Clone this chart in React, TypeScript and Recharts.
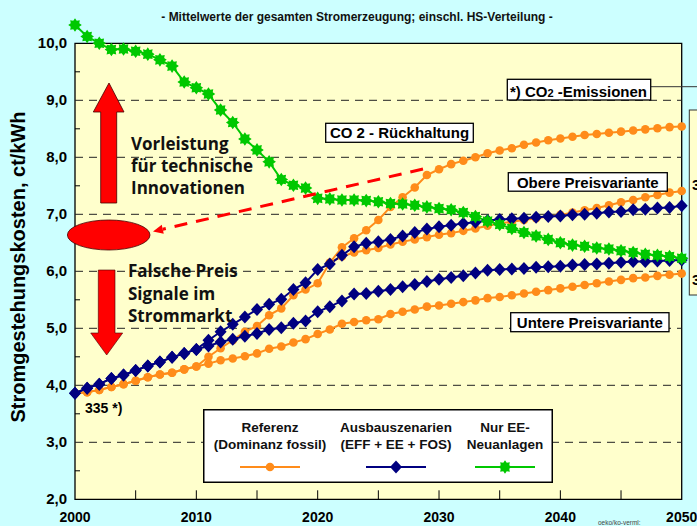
import {
  ComposedChart,
  Line,
  XAxis,
  YAxis,
  ReferenceArea,
  ReferenceLine,
  Legend,
} from "recharts";

const YEARS = [
  2000, 2001, 2002, 2003, 2004, 2005, 2006, 2007, 2008, 2009, 2010, 2011, 2012,
  2013, 2014, 2015, 2016, 2017, 2018, 2019, 2020, 2021, 2022, 2023, 2024, 2025,
  2026, 2027, 2028, 2029, 2030, 2031, 2032, 2033, 2034, 2035, 2036, 2037, 2038,
  2039, 2040, 2041, 2042, 2043, 2044, 2045, 2046, 2047, 2048, 2049, 2050,
];

// Referenz (Dominanz fossil) - obere Preisvariante
const REF_OBERE = [
  3.86, 3.88, 3.92, 3.97, 4.02, 4.08, 4.14, 4.19, 4.22, 4.28, 4.33, 4.5, 4.65,
  4.79, 4.94, 5.04, 5.23, 5.35, 5.58, 5.68, 5.79, 6.15, 6.26, 6.33, 6.37, 6.41,
  6.47, 6.52, 6.56, 6.6, 6.64, 6.67, 6.71, 6.75, 6.8, 6.84, 6.87, 6.9, 6.93,
  6.96, 6.99, 7.03, 7.07, 7.11, 7.16, 7.21, 7.25, 7.3, 7.34, 7.38, 7.41,
];

// Referenz - untere Preisvariante
const REF_UNTERE = [
  3.86, 3.88, 3.92, 3.97, 4.02, 4.08, 4.14, 4.19, 4.22, 4.28, 4.33, 4.38, 4.44,
  4.47, 4.51, 4.56, 4.64, 4.68, 4.75, 4.81, 4.9, 4.98, 5.08, 5.11, 5.14, 5.16,
  5.25, 5.29, 5.33, 5.38, 5.4, 5.43, 5.46, 5.49, 5.53, 5.55, 5.58, 5.61, 5.64,
  5.67, 5.7, 5.73, 5.76, 5.79, 5.82, 5.85, 5.88, 5.89, 5.92, 5.94, 5.96,
];

// Referenz mit CO2-Rueckhaltung (ab 2021)
const REF_CO2 = [
  null, null, null, null, null, null, null, null, null, null, null, null, null,
  null, null, null, null, null, null, null, null, 6.15, 6.42, 6.58, 6.72, 6.9,
  7.13, 7.3, 7.47, 7.69, 7.79, 7.88, 7.94, 8.0, 8.07, 8.12, 8.16, 8.22, 8.26,
  8.3, 8.33, 8.36, 8.39, 8.41, 8.43, 8.45, 8.47, 8.49, 8.51, 8.53, 8.54,
];

// Ausbauszenarien (EFF + EE + FOS)
const AUSBAU_OBEN = [
  3.86, 3.95, 4.02, 4.12, 4.18, 4.26, 4.34, 4.41, 4.49, 4.56, 4.63, 4.79, 4.94,
  5.07, 5.2, 5.33, 5.42, 5.51, 5.68, 5.8, 6.03, 6.13, 6.28, 6.43, 6.49, 6.52,
  6.56, 6.62, 6.68, 6.74, 6.78, 6.81, 6.84, 6.86, 6.89, 6.91, 6.92, 6.93, 6.95,
  6.96, 6.97, 6.99, 7.0, 7.02, 7.04, 7.05, 7.08, 7.09, 7.11, 7.12, 7.15,
];

const AUSBAU_UNTEN = [
  3.86, 3.95, 4.02, 4.12, 4.18, 4.26, 4.34, 4.41, 4.49, 4.56, 4.63, 4.69, 4.76,
  4.81, 4.86, 4.91, 4.98, 5.01, 5.09, 5.13, 5.29, 5.38, 5.48, 5.6, 5.61, 5.65,
  5.68, 5.73, 5.77, 5.82, 5.86, 5.89, 5.92, 5.97, 6.02, 6.03, 6.04, 6.05, 6.07,
  6.08, 6.09, 6.11, 6.12, 6.13, 6.14, 6.16, 6.17, 6.17, 6.18, 6.19, 6.2,
];

// Nur EE-Neuanlagen
const NUR_EE = [
  10.32, 10.12, 10.0, 9.89, 9.9, 9.86, 9.81, 9.71, 9.6, 9.32, 9.22, 9.11, 8.83,
  8.61, 8.32, 8.13, 7.92, 7.61, 7.51, 7.46, 7.28, 7.27, 7.25, 7.25, 7.24, 7.22,
  7.19, 7.18, 7.16, 7.13, 7.1, 7.08, 7.03, 6.96, 6.88, 6.82, 6.75, 6.68, 6.62,
  6.56, 6.5, 6.46, 6.44, 6.41, 6.39, 6.36, 6.33, 6.3, 6.28, 6.26, 6.23,
];

const Y_TICKS = [2, 2.5, 3, 3.5, 4, 4.5, 5, 5.5, 6, 6.5, 7, 7.5, 8, 8.5, 9, 9.5, 10];
const X_TICKS = [2000, 2005, 2010, 2015, 2020, 2025, 2030, 2035, 2040, 2045, 2050];
const GRID_VALUES = [3, 4, 5, 6, 7, 8, 9];

const ORANGE = "#FF8C1A";
const BLUE = "#000080";
const GREEN = "#00C800";
const RED = "#FF0000";
const BG = "#CCFFFF";
const PLOT_BG = "#FFFFCC";
const FONT = "'Liberation Sans', Arial, sans-serif";
const NOTE_FONT = "'Open Sans', 'DejaVu Sans', sans-serif";

const data = YEARS.map((year, i) => ({
  year,
  obere: REF_OBERE[i],
  untere: REF_UNTERE[i],
  co2: REF_CO2[i],
  ausbauOben: AUSBAU_OBEN[i],
  ausbauUnten: AUSBAU_UNTEN[i],
  nurEE: NUR_EE[i],
}));

function starPoints(cx: number, cy: number, ro: number, ri: number) {
  const pts: string[] = [];
  for (let i = 0; i < 16; i++) {
    const r = i % 2 === 0 ? ro : ri;
    const a = (Math.PI / 8) * i - Math.PI / 2;
    pts.push(`${cx + r * Math.cos(a)},${cy + r * Math.sin(a)}`);
  }
  return pts.join(" ");
}

const diamondPoints = (cx: number, cy: number, w: number, h: number) =>
  `${cx},${cy - h} ${cx + w},${cy} ${cx},${cy + h} ${cx - w},${cy}`;

const OrangeDot = (p: any) =>
  p.cx == null || p.cy == null || p.value == null ? (
    <g key={p.key} />
  ) : (
    <circle key={p.key} cx={p.cx} cy={p.cy} r={4.3} fill={ORANGE} />
  );

const BlueDot = (p: any) =>
  p.cx == null || p.cy == null ? (
    <g key={p.key} />
  ) : (
    <polygon key={p.key} points={diamondPoints(p.cx, p.cy, 6, 6.5)} fill={BLUE} />
  );

const GreenDot = (p: any) =>
  p.cx == null || p.cy == null ? (
    <g key={p.key} />
  ) : (
    <polygon key={p.key} points={starPoints(p.cx, p.cy, 6.8, 4.6)} fill={GREEN} />
  );

const YTick = ({ x, y, payload }: any) => {
  const v = payload.value as number;
  const major = Number.isInteger(v);
  return (
    <g>
      {!major && <line x1={x} x2={x + 5} y1={y} y2={y} stroke="#000" strokeWidth={1} />}
      {major && (
        <text
          x={x - 8}
          y={y + 5}
          textAnchor="end"
          fontFamily={FONT}
          fontWeight="bold"
          fontSize={15}
          fill="#000"
        >
          {v.toFixed(1).replace(".", ",")}
        </text>
      )}
    </g>
  );
};

const XTick = ({ x, y, payload }: any) => {
  const v = payload.value as number;
  const edge = v === 2000 || v === 2050;
  return (
    <g>
      {!edge && <line x1={x} x2={x} y1={y} y2={y - 9} stroke="#000" strokeWidth={1} />}
      {v % 10 === 0 && (
        <text
          x={x}
          y={y + 23}
          textAnchor="middle"
          fontFamily={FONT}
          fontWeight="bold"
          fontSize={14}
          fill="#000"
        >
          {v}
        </text>
      )}
    </g>
  );
};

const LEGEND_ITEMS = [
  { l1: "Referenz", l2: "(Dominanz fossil)", color: ORANGE, cx: 67, kind: "dot" },
  { l1: "Ausbauszenarien", l2: "(EFF + EE + FOS)", color: BLUE, cx: 193, kind: "diamond" },
  { l1: "Nur EE-", l2: "Neuanlagen", color: GREEN, cx: 302, kind: "star" },
];

function LegendBox() {
  return (
    <svg width={350} height={74} style={{ display: "block" }}>
      <rect x={0.75} y={0.75} width={348.5} height={72.5} fill="#fff" stroke="#000" strokeWidth={1.5} />
      {LEGEND_ITEMS.map((it) => (
        <g key={it.l1}>
          <text x={it.cx} y={23} textAnchor="middle" fontFamily={FONT} fontWeight="bold" fontSize={13.5} fill="#111">
            {it.l1}
          </text>
          <text x={it.cx} y={40} textAnchor="middle" fontFamily={FONT} fontWeight="bold" fontSize={13.5} fill="#111">
            {it.l2}
          </text>
          <line x1={it.cx - 30} x2={it.cx + 30} y1={58} y2={58} stroke={it.color} strokeWidth={2} />
          {it.kind === "dot" && <circle cx={it.cx} cy={58} r={4.3} fill={it.color} />}
          {it.kind === "diamond" && <polygon points={diamondPoints(it.cx, 58, 6, 6.5)} fill={it.color} />}
          {it.kind === "star" && <polygon points={starPoints(it.cx, 58, 6.8, 4.6)} fill={it.color} />}
        </g>
      ))}
    </svg>
  );
}

const LabelBox = ({ x, y, w, h, children }: any) => (
  <g>
    <rect x={x} y={y} width={w} height={h} fill="#fff" stroke="#000" strokeWidth={1.3} />
    {children}
  </g>
);

function Annotations() {
  // dashed arrow from "CO 2 - Rueckhaltung" back to the ellipse
  const sx = 423, sy = 169, ex = 153, ey = 231.5;
  const len = Math.hypot(sx - ex, sy - ey);
  const ux = (sx - ex) / len, uy = (sy - ey) / len;
  const bx = ex + ux * 10, by = ey + uy * 10;
  const head = `${ex},${ey} ${bx - uy * 4.5},${by + ux * 4.5} ${bx + uy * 4.5},${by - ux * 4.5}`;
  const noteStyle = { fontFamily: NOTE_FONT, fontWeight: 700, fontSize: 17, fill: "#111" };
  const boxText = { fontFamily: FONT, fontWeight: "bold" as const, fontSize: 15, fill: "#000" };
  return (
    <svg
      width={697}
      height={526}
      style={{ position: "absolute", left: 0, top: 0, pointerEvents: "none" }}
    >
      <text x={357} y={21} textAnchor="middle" fontFamily={FONT} fontWeight="bold" fontSize={12} fill="#111">
        -  Mittelwerte der gesamten Stromerzeugung; einschl. HS-Verteilung -
      </text>
      <text
        transform="translate(25,267) rotate(-90)"
        textAnchor="middle"
        fontFamily={FONT}
        fontWeight="bold"
        fontSize={20}
        fill="#000"
      >
        Stromgestehungskosten, ct/kWh
      </text>

      {/* arrows and ellipse */}
      <polygon
        points="109,83 124,112 116.7,112 116.7,203 100.7,203 100.7,112 93.3,112"
        fill={RED}
        stroke="#400"
        strokeWidth={0.8}
      />
      <polygon
        points="98.3,270 115,270 115,333 122.7,333 106.7,355 90.7,333 98.3,333"
        fill={RED}
        stroke="#400"
        strokeWidth={0.6}
      />
      <ellipse cx={108.7} cy={235} rx={41.3} ry={15} fill={RED} stroke="#400" strokeWidth={0.8} />
      <line x1={sx} y1={sy} x2={bx} y2={by} stroke={RED} strokeWidth={3} strokeDasharray="13 9" />
      <polygon points={head} fill={RED} />

      <text x={131} y={150} {...noteStyle}>Vorleistung</text>
      <text x={131} y={172} {...noteStyle}>für technische</text>
      <text x={131} y={194} {...noteStyle}>Innovationen</text>
      <text x={128} y={277} {...noteStyle}>Falsche Preis</text>
      <text x={128} y={300} {...noteStyle}>Signale im</text>
      <text x={128} y={322} {...noteStyle}>Strommarkt</text>

      <text x={85} y={413} fontFamily={FONT} fontWeight="bold" fontSize={14} fill="#000">
        335 *)
      </text>

      <line x1={650.7} y1={86.7} x2={697} y2={86.7} stroke="#333" strokeWidth={1} />
      <LabelBox x={507.3} y={79.3} w={143.4} h={20.7}>
        <text x={510} y={96.5} {...boxText}>
          *) CO<tspan fontSize={11}>2</tspan> -Emissionen
        </text>
      </LabelBox>
      <LabelBox x={325.7} y={123.3} w={147.6} h={19}>
        <text x={399.5} y={138.4} textAnchor="middle" {...boxText}>
          CO 2 - Rückhaltung
        </text>
      </LabelBox>
      <LabelBox x={508.3} y={172.7} w={159} h={18.5}>
        <text x={587.8} y={187.5} textAnchor="middle" {...boxText}>
          Obere Preisvariante
        </text>
      </LabelBox>
      <LabelBox x={510.7} y={312.7} w={158.3} h={19}>
        <text x={589.8} y={328.3} textAnchor="middle" {...boxText}>
          Untere Preisvariante
        </text>
      </LabelBox>

      {/* box of a neighbouring figure, cut off at the right edge as in the source */}
      <rect x={689.3} y={110} width={30} height={185} fill={PLOT_BG} stroke="#333" strokeWidth={1} />
      <text x={692} y={190} {...boxText}>3</text>
      <text x={692} y={285} {...boxText}>3</text>

      <text x={598} y={525} fontFamily={FONT} fontSize={6.5} fill="#444">
        oeko/ko-verml:
      </text>
    </svg>
  );
}

export default function App() {
  return (
    <div
      style={{
        position: "absolute",
        left: 0,
        top: 0,
        width: 697,
        height: 526,
        background: BG,
        overflow: "hidden",
      }}
    >
      <ComposedChart
        width={697}
        height={526}
        data={data}
        margin={{ top: 20.5, right: 15.3, left: 0, bottom: 0 }}
      >
        <XAxis
          dataKey="year"
          type="number"
          domain={[2000, 2050]}
          ticks={X_TICKS}
          interval={0}
          height={26.7}
          axisLine={false}
          tickLine={false}
          tickSize={0}
          tickMargin={0}
          tick={<XTick />}
        />
        <YAxis
          type="number"
          domain={[2, 10.4]}
          ticks={Y_TICKS}
          interval={0}
          width={75}
          axisLine={false}
          tickLine={false}
          tickSize={0}
          tickMargin={0}
          tick={<YTick />}
        />
        <ReferenceArea
          x1={2000}
          x2={2050}
          y1={2}
          y2={10}
          fill={PLOT_BG}
          fillOpacity={1}
          stroke="#000"
          strokeWidth={1.3}
        />
        {GRID_VALUES.map((v) => (
          <ReferenceLine key={v} y={v} stroke="#222" strokeWidth={1} strokeDasharray="8 6" />
        ))}
        <Line dataKey="untere" stroke={ORANGE} strokeWidth={2} dot={OrangeDot} activeDot={false} isAnimationActive={false} />
        <Line dataKey="obere" stroke={ORANGE} strokeWidth={2} dot={OrangeDot} activeDot={false} isAnimationActive={false} />
        <Line dataKey="co2" stroke={ORANGE} strokeWidth={2} dot={OrangeDot} activeDot={false} isAnimationActive={false} />
        <Line dataKey="ausbauUnten" stroke={BLUE} strokeWidth={2} dot={BlueDot} activeDot={false} isAnimationActive={false} />
        <Line dataKey="ausbauOben" stroke={BLUE} strokeWidth={2} dot={BlueDot} activeDot={false} isAnimationActive={false} />
        <Line dataKey="nurEE" stroke={GREEN} strokeWidth={2} dot={GreenDot} activeDot={false} isAnimationActive={false} />
        <Legend
          layout="vertical"
          align="center"
          verticalAlign="middle"
          content={() => <LegendBox />}
          wrapperStyle={{ left: 203, top: 409, width: 350, height: 74 }}
        />
      </ComposedChart>
      <Annotations />
    </div>
  );
}
